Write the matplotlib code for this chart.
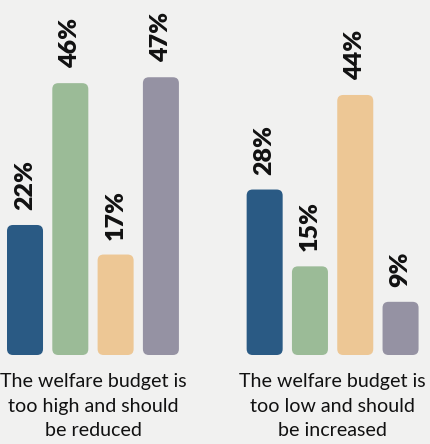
import matplotlib
matplotlib.use("Agg")
import matplotlib.pyplot as plt
from matplotlib.patches import FancyBboxPatch

groups = ["The welfare budget is\ntoo high and should\nbe reduced",
          "The welfare budget is\ntoo low and should\nbe increased"]
too_high = [22, 46, 17, 47]
too_low = [28, 15, 44, 9]
colors = ["#2a5a84", "#9bbb97", "#edc795", "#9592a3"]

bg = "#f1f1f0"
plt.rcParams["font.family"] = ["Lato", "DejaVu Sans"]

fig = plt.figure(figsize=(4.31, 4.44), dpi=100, facecolor=bg)
ax = fig.add_axes([0, 0, 1, 1])
ax.set_facecolor(bg)
ax.set_xlim(-0.552, 8.962)
ax.set_ylim(-15.06, 60.07)
ax.axis("off")

gap = 5.29
pos1 = [0, 1, 2, 3]
pos2 = [p + gap for p in pos1]
width = 0.795

# px -> data conversion so the corner rounding stays circular
fig.canvas.draw()
x_per_px = (ax.get_xlim()[1] - ax.get_xlim()[0]) / ax.bbox.width
y_per_px = (ax.get_ylim()[1] - ax.get_ylim()[0]) / ax.bbox.height
radius_px = 6

for pos, vals in [(pos1, too_high), (pos2, too_low)]:
    bars = ax.bar(pos, vals, width=width, color=colors)
    for b, v in zip(bars, vals):
        b.set_visible(False)
        patch = FancyBboxPatch((b.get_x(), b.get_y()), b.get_width(), b.get_height(),
                               boxstyle=f"round,pad=0,rounding_size={radius_px * x_per_px}",
                               mutation_aspect=y_per_px / x_per_px,
                               facecolor=b.get_facecolor(), edgecolor="none")
        ax.add_patch(patch)
        ax.annotate(f"{v}%", (b.get_x() + b.get_width() / 2, v),
                    xytext=(0, 15), textcoords="offset pixels",
                    rotation=90, ha="center", va="bottom",
                    fontsize=18, fontweight="heavy", color="#111111")

for pos, label in [(pos1, groups[0]), (pos2, groups[1])]:
    cx = (pos[0] + pos[-1]) / 2
    ax.annotate(label, (cx, 0), xytext=(0, -18), textcoords="offset pixels",
                ha="center", va="top", fontsize=14.1, color="#111111",
                linespacing=1.55)

fig.savefig("out.png", dpi=100, facecolor=bg)
